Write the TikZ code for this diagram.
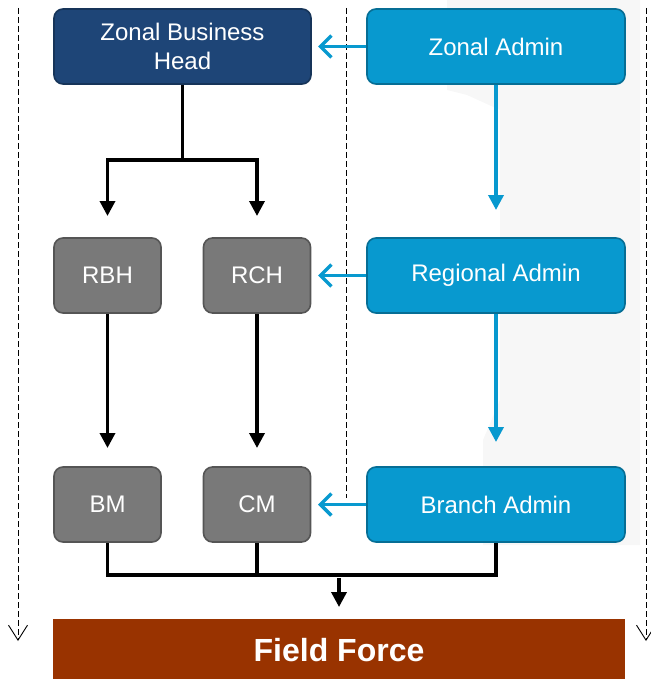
\documentclass[tikz,border=0pt]{standalone}
\usepackage{fontspec}
\setmainfont{Liberation Sans}
\usepackage{tikz}
\usetikzlibrary{arrows.meta, positioning, calc}

\definecolor{zbhblue}{HTML}{1E4577}
\definecolor{adminblue}{HTML}{0899CF}
\definecolor{mgrgray}{HTML}{797979}
\definecolor{forcebrown}{HTML}{993300}

\begin{document}
\begin{tikzpicture}[
    x=1pt, y=-1pt,
    box/.style={rounded corners=9pt, minimum height=75pt, text=white, align=center,
                font=\fontsize{24}{29}\selectfont, line width=1.6pt},
    headbox/.style={box, fill=zbhblue, draw=zbhblue!75!black, minimum width=257pt},
    adminbox/.style={box, fill=adminblue, draw=adminblue!72!black, minimum width=258pt},
    mgrbox/.style={box, fill=mgrgray, draw=mgrgray!70!black, minimum width=107pt},
    forcebox/.style={fill=forcebrown, text=white, minimum width=572pt, minimum height=63pt,
                font=\bfseries\fontsize{32}{38}\selectfont},
    blkarrow/.style={line width=3.5pt, -{Triangle[length=15pt, width=15pt]}},
    blkline/.style={line width=3.5pt},
    bluearrow/.style={line width=3.5pt, adminblue, -{Straight Barb[length=11pt, width=22pt, line width=3.5pt]}},
    bluedown/.style={line width=3.5pt, adminblue, -{Triangle[length=15pt, width=15pt]}},
    lane/.style={dash pattern=on 6pt off 3pt, line width=0.9pt, -{Straight Barb[length=15pt, width=19pt, line width=0.9pt]}},
    laneplain/.style={dash pattern=on 6pt off 3pt, line width=0.9pt}
]
    \useasboundingbox (0,0) rectangle (650,679);
    \fill[black!3] (447,0) -- (640,0) -- (640,545) -- (483,545) -- (483,440) -- (500,400)
        -- (500,110) -- (467,95) -- (447,90) -- cycle;

    % Dashed lanes
    \coordinate (ltop) at (18,8);   \coordinate (lbot) at (18,641);
    \coordinate (mtop) at (346,8);  \coordinate (mbot) at (346,498);
    \coordinate (rtop) at (646,8);  \coordinate (rbot) at (646,641);
    \draw[lane] (ltop) -- (lbot);
    \draw[laneplain] (mtop) -- (mbot);
    \draw[lane] (rtop) -- (rbot);

    % Boxes
    \node[headbox] (zbh) at (182.5,46.5) {Zonal Business\\Head};
    \node[adminbox] (za) at (496,46.5) {Zonal Admin};
    \node[mgrbox] (rbh) at (107.5,275.5) {RBH};
    \node[mgrbox] (rch) at (257,275.5) {RCH};
    \node[adminbox] (ra) at (496,275.5) {Regional Admin};
    \node[mgrbox] (bm) at (107.5,504.5) {BM};
    \node[mgrbox] (cm) at (257,504.5) {CM};
    \node[adminbox] (ba) at (496,504.5) {Branch Admin};
    \node[forcebox] (ff) at (339,650.5) {Field Force};

    % Black arrows - reporting lines
    \coordinate (split) at (182.5,160);
    \coordinate (rbhin) at (107.5,216);
    \coordinate (rchin) at (257,216);
    \coordinate (bmin) at (107.5,448);
    \coordinate (cmin) at (257,448);
    \draw[blkline] (zbh.south) -- (split);
    \draw[blkarrow] (split) -| (rbhin);
    \draw[blkarrow] (split) -| (rchin);
    \draw[blkarrow] (rbh.south) -- (bmin);
    \draw[blkarrow] (rch.south) -- (cmin);

    % Bus to field force
    \coordinate (bus) at (496,575);
    \coordinate (ffout) at (339,578);
    \coordinate (ffin) at (339,607);
    \draw[blkline] (bm.south) |- (bus) -- (ba.south);
    \draw[blkline] (cm.south) -- (cm.south |- bus);
    \draw[blkarrow] (ffout) -- (ffin);

    % Blue arrows - admin support
    \coordinate (zbhin) at (318,46.5);
    \coordinate (rchside) at (318,275.5);
    \coordinate (cmside) at (318,504.5);
    \coordinate (rain) at (496,210);
    \coordinate (bain) at (496,442);
    \draw[bluearrow] (za.west) -- (zbhin);
    \draw[bluearrow] (ra.west) -- (rchside);
    \draw[bluearrow] (ba.west) -- (cmside);
    \draw[bluedown] (za.south) -- (rain);
    \draw[bluedown] (ra.south) -- (bain);
\end{tikzpicture}
\end{document}
